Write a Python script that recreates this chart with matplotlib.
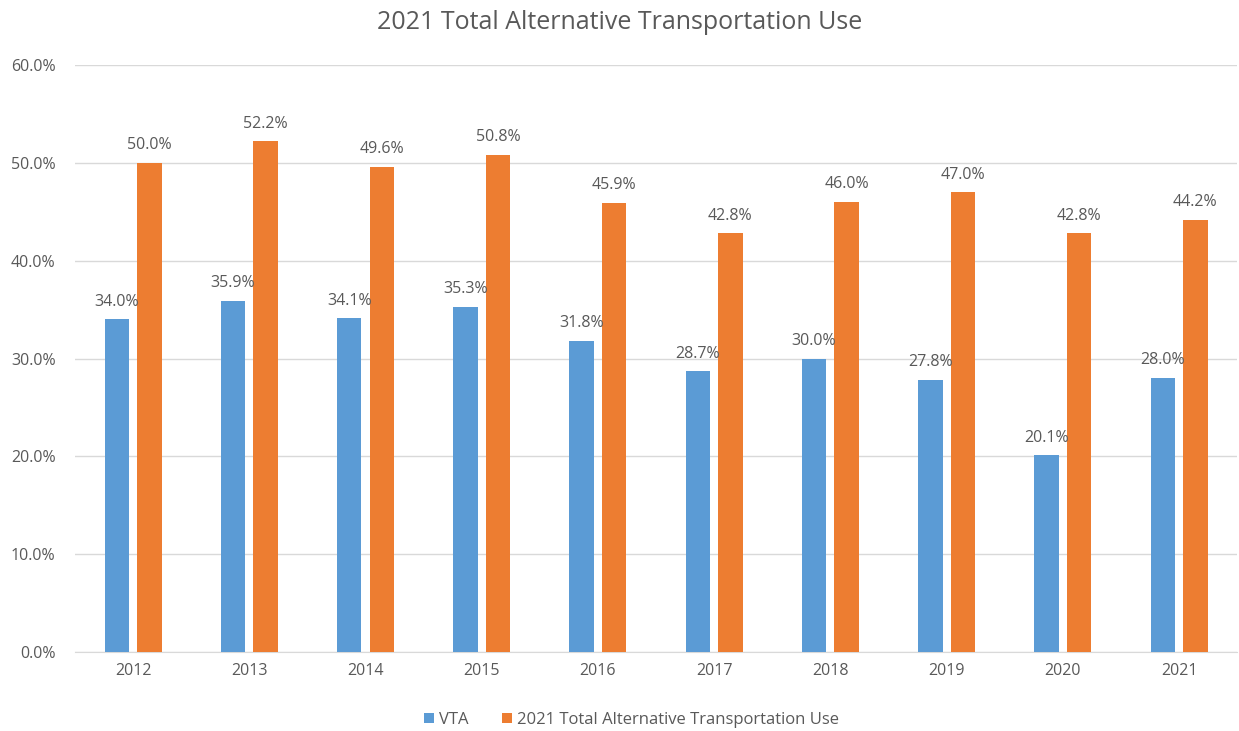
import numpy as np
import matplotlib.pyplot as plt
from matplotlib.ticker import PercentFormatter

years = ['2012', '2013', '2014', '2015', '2016', '2017', '2018', '2019', '2020', '2021']
vta = [34.0, 35.9, 34.1, 35.3, 31.8, 28.7, 30.0, 27.8, 20.1, 28.0]
total_alt = [50.0, 52.2, 49.6, 50.8, 45.9, 42.8, 46.0, 47.0, 42.8, 44.2]

plt.rcParams['font.family'] = ['Open Sans', 'DejaVu Sans']

blue = '#5B9BD5'
orange = '#ED7D31'
text_col = '#595959'

fig = plt.figure(figsize=(12.39, 7.31), dpi=100)
ax = fig.add_axes([0.0605, 0.108, 0.938, 0.803])

x = np.arange(len(years))
w = 0.21
offset = 0.14
b1 = ax.bar(x - offset, vta, w, color=blue, label='VTA', zorder=3)
b2 = ax.bar(x + offset, total_alt, w, color=orange,
            label='2021 Total Alternative Transportation Use', zorder=3)

for bars in (b1, b2):
    for rect in bars:
        h = rect.get_height()
        ax.annotate(f'{h:.1f}%', (rect.get_x() + rect.get_width() / 2, h),
                    xytext=(0, 7), textcoords='offset points',
                    ha='center', va='bottom', fontsize=11.5, color=text_col)

ax.set_xlim(-0.5, len(years) - 0.5)
ax.set_ylim(0, 60)
ax.set_yticks(np.arange(0, 61, 10))
ax.yaxis.set_major_formatter(PercentFormatter(decimals=1))
ax.set_xticks(x)
ax.set_xticklabels(years)
ax.tick_params(axis='both', length=0, labelsize=11.5, colors=text_col)
ax.tick_params(axis='x', pad=8)
ax.tick_params(axis='y', pad=14)
ax.grid(axis='y', color='#D9D9D9', linewidth=1, zorder=0)
for s in ['top', 'right', 'left']:
    ax.spines[s].set_visible(False)
ax.spines['bottom'].set_color('#D9D9D9')

fig.suptitle('2021 Total Alternative Transportation Use', y=0.987,
             fontsize=18, color=text_col)

fig.legend(handles=[b1, b2], loc='lower center', bbox_to_anchor=(0.51, -0.016),
           ncol=2, frameon=False, fontsize=12, labelcolor=text_col,
           handlelength=0.6, handleheight=0.6, handletextpad=0.3, columnspacing=2.0)

fig.savefig('out.png', dpi=100)
